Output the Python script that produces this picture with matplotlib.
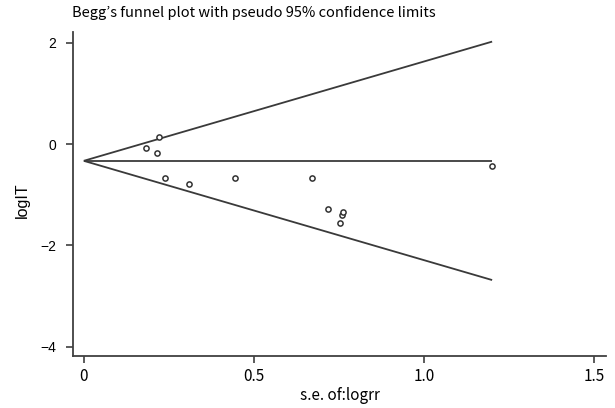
import numpy as np
import matplotlib
matplotlib.use("Agg")
import matplotlib.pyplot as plt

# data
se = [0.182, 0.220, 0.215, 0.238, 0.309, 0.444, 0.671, 0.718, 0.753, 0.758, 0.763, 1.200]
logrr = [-0.08, 0.14, -0.18, -0.67, -0.79, -0.67, -0.67, -1.29, -1.55, -1.40, -1.335, -0.43]
pooled = -0.33
se_max = 1.2
xticks = [0, 0.5, 1.0, 1.5]
xtick_labels = ["0", "0.5", "1.0", "1.5"]
yticks = [2, 0, -2, -4]
ytick_labels = ["2", "0", "\u22122", "\u22124"]

fig = plt.figure(figsize=(6.15, 4.08), dpi=100)
ax = fig.add_axes([0.118, 0.1275, 0.867, 0.7945])

se_line = np.array([0.0, se_max])
col = "#3a3a3a"
ax.plot(se_line, pooled + 1.96 * se_line, color=col, lw=1.3, solid_capstyle="butt")
ax.plot(se_line, pooled - 1.96 * se_line, color=col, lw=1.3, solid_capstyle="butt")
ax.plot(se_line, [pooled, pooled], color=col, lw=1.3, solid_capstyle="butt")
ax.scatter(se, logrr, s=14, facecolors="white", edgecolors="#333333", linewidths=1.1, zorder=3)

ax.set_xlim(-0.033, 1.534)
ax.set_ylim(-4.18, 2.215)
for s in ["top", "right"]:
    ax.spines[s].set_visible(False)
for s in ["left", "bottom"]:
    ax.spines[s].set_color("#404040")
    ax.spines[s].set_linewidth(1.3)

ax.set_xticks(xticks)
ax.set_xticklabels(xtick_labels, fontfamily="Noto Sans CJK JP", fontsize=11)
ax.set_yticks(yticks)
ax.set_yticklabels(ytick_labels, fontfamily="Liberation Sans", fontsize=10)
ax.tick_params(axis="both", direction="out", length=5, width=1.2, color="#404040")
ax.tick_params(axis="x", pad=4)
ax.tick_params(axis="y", pad=7)

fig.text(340 / 615, 1 - 395 / 408, "s.e. of:logrr", fontfamily="Noto Sans CJK JP",
         fontsize=11, ha="center", va="center")
fig.text(22 / 615, 1 - 200 / 408, "logIT", fontfamily="Liberation Sans", fontsize=11.5,
         rotation=90, ha="center", va="center")

fig.text(72 / 615, 1 - 13 / 408, "Begg\u2019s funnel plot with pseudo 95% confidence limits",
         fontfamily="Noto Sans CJK JP", fontsize=10.5, ha="left", va="center")

fig.savefig("out.png", dpi=100)
